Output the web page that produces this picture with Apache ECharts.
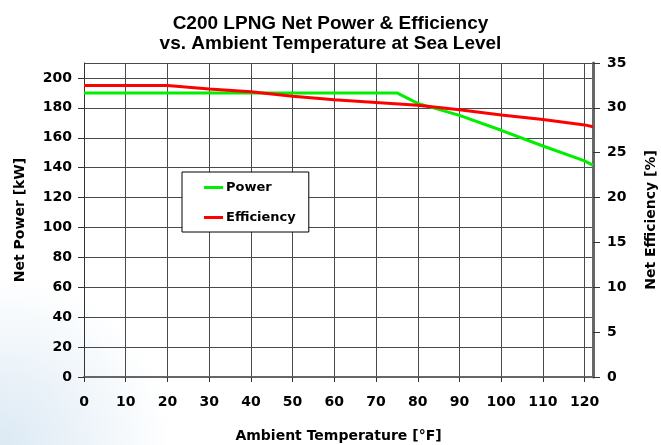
<!DOCTYPE html>
<html>
<head>
<meta charset="utf-8">
<script src="https://cdn.jsdelivr.net/npm/echarts@6/dist/echarts.min.js"></script>
<style>
html,body{margin:0;padding:0;background:#fff;}
#container{width:661px;height:445px;}
</style>
</head>
<body>
<div id="container"></div>
<script>
// temperatures [°F] and readings for each line
var powerTemp = [0, 75, 80, 90, 100, 110, 120, 122];
var powerKw = [190, 190, 183, 175, 165, 154.5, 144.5, 141.5];
var effTemp = [0, 20, 30, 40, 50, 60, 70, 80, 90, 100, 110, 120, 122];
var effPct = [32.5, 32.5, 32.1, 31.8, 31.3, 30.9, 30.6, 30.3, 29.8, 29.2, 28.7, 28.1, 27.9];

function pairs(xs, ys){
	var out = [];
	for (var i = 0; i < xs.length; i++) {
		out.push([xs[i], ys[i]]);
	}
	return out;
}

var titleFont = 'Liberation Sans, Arial, sans-serif';
var font = 'DejaVu Sans, sans-serif';
var labelStyle = {color:'#000', fontFamily:font, fontWeight:'bold', fontSize:14};
var nameStyle = {color:'#000', fontFamily:font, fontWeight:'bold', fontSize:14};
var gridColor = '#4a4a4a';

var myChart = echarts.init(document.getElementById('container'));
var option = {
	backgroundColor:'#fff',
	animation:false,
	graphic:[{
		type:'circle', shape:{cx:0, cy:445, r:170}, z:-10, silent:true,
		style:{fill:new echarts.graphic.RadialGradient(0.5, 0.5, 0.5, [
			{offset:0, color:'rgba(190,215,235,0.55)'},
			{offset:1, color:'rgba(190,215,235,0)'}
		])}
	}],
	title:{
		text:'C200 LPNG Net Power & Efficiency\nvs. Ambient Temperature at Sea Level',
		left:'center', top:9, itemGap:0,
		textStyle:{fontFamily:titleFont, fontWeight:'bold', fontSize:19, lineHeight:20, color:'#000'}
	},
	legend:{
		orient:'vertical', left:182, top:172,
		data:['Power','Efficiency'],
		backgroundColor:'#fff', borderColor:'#000', borderWidth:1,
		padding:[9, 13, 8, 22], itemGap:17,
		icon:'rect', itemWidth:19, itemHeight:3,
		textStyle:{color:'#000', fontFamily:font, fontWeight:'bold', fontSize:13, padding:[0,0,0,-2]}
	},
	grid:{left:84, right:68, top:63, bottom:68, containLabel:false, outerBoundsMode:'none'},
	xAxis:{
		type:'value', min:0, max:122, interval:10,
		name:'Ambient Temperature [°F]', nameLocation:'middle', nameGap:52,
		nameTextStyle:nameStyle,
		axisLine:{lineStyle:{color:'#666', width:2}},
		axisTick:{length:5, lineStyle:{color:'#333'}},
		axisLabel:Object.assign({margin:18, showMaxLabel:false}, labelStyle),
		splitLine:{show:true, lineStyle:{color:gridColor, width:1}}
	},
	yAxis:[{
		type:'value', min:0, max:210, interval:20,
		name:'Net Power [kW]', nameLocation:'middle', nameGap:57, nameRotate:90,
		nameTextStyle:nameStyle,
		axisLine:{show:true, lineStyle:{color:'#333', width:1}},
		axisTick:{show:true, length:6, lineStyle:{color:'#333'}},
		axisLabel:Object.assign({margin:12, showMaxLabel:false}, labelStyle),
		splitLine:{show:true, lineStyle:{color:gridColor, width:1}}
	},{
		type:'value', min:0, max:35, interval:5, position:'right',
		name:'Net Efficiency [%]', nameLocation:'middle', nameGap:51, nameRotate:90,
		nameTextStyle:nameStyle,
		axisLine:{show:true, lineStyle:{color:'#666', width:3}},
		axisTick:{show:true, length:7, lineStyle:{color:'#333'}},
		axisLabel:Object.assign({margin:14}, labelStyle),
		splitLine:{show:false}
	}],
	series:[{
		name:'Power', type:'line', yAxisIndex:0, symbol:'none',
		lineStyle:{color:'#00ee00', width:3}, itemStyle:{color:'#00ee00'},
		data:pairs(powerTemp, powerKw)
	},{
		name:'Efficiency', type:'line', yAxisIndex:1, symbol:'none',
		lineStyle:{color:'#ff0000', width:3}, itemStyle:{color:'#ff0000'},
		data:pairs(effTemp, effPct)
	}]
};
myChart.setOption(option, true);
</script>
</body>
</html>
